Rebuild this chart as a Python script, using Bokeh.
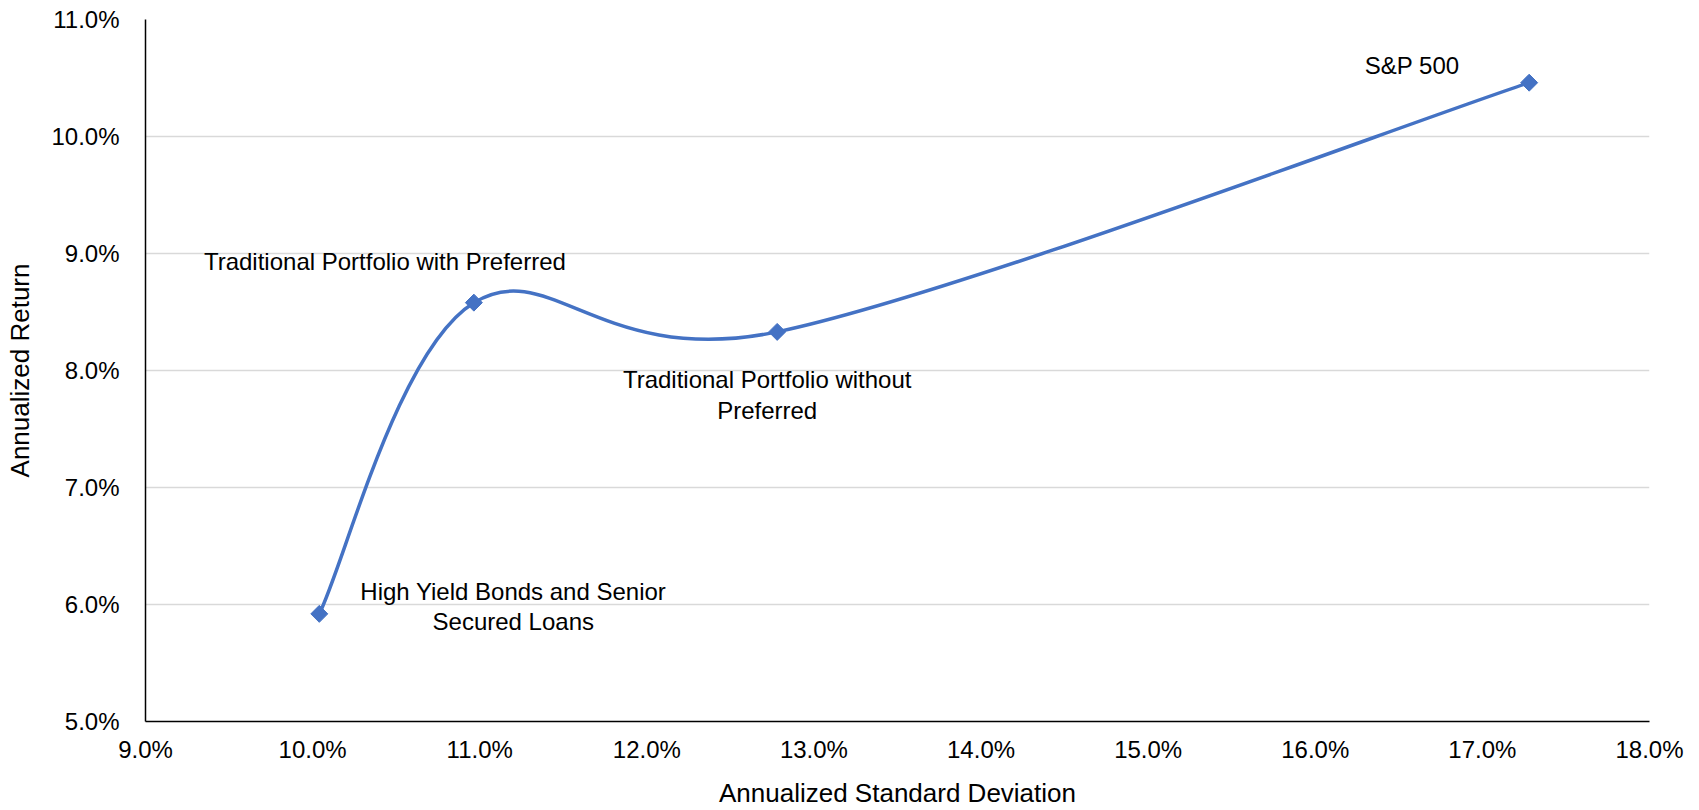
import numpy as np
from bokeh.plotting import figure
from bokeh.models import FixedTicker, PrintfTickFormatter, Range1d, ColumnDataSource
from bokeh.core.properties import value
from bokeh.embed import file_html
from bokeh.resources import INLINE

# ---- data (percent) ----
names = ["High Yield Bonds and Senior\nSecured Loans",
         "Traditional Portfolio with Preferred",
         "Traditional Portfolio without\nPreferred",
         "S&P 500"]
std_dev = [10.04, 10.965, 12.78, 17.28]
ann_return = [5.92, 8.58, 8.33, 10.46]
x_ticks = [9, 10, 11, 12, 13, 14, 15, 16, 17, 18]
y_ticks = [5, 6, 7, 8, 9, 10, 11]

FONT = "Liberation Sans"
BLUE = "#4472C4"

p = figure(width=1699, height=810, output_backend="svg", toolbar_location=None,
           x_range=Range1d(9, 18), y_range=Range1d(5, 11),
           min_border_left=145, min_border_right=50, min_border_top=19, min_border_bottom=89)
p.outline_line_color = None
p.background_fill_color = "white"

# axes
for ax in (p.xaxis[0], p.yaxis[0]):
    ax.formatter = PrintfTickFormatter(format="%.1f%%")
    ax.axis_line_color = "black"
    ax.axis_line_width = 1.5
    ax.major_tick_line_color = None
    ax.minor_tick_line_color = None
    ax.major_label_text_font = FONT
    ax.major_label_text_font_size = "24px"
    ax.major_label_text_color = "#000000"
    ax.axis_label_text_font = FONT
    ax.axis_label_text_font_size = "26px"
    ax.axis_label_text_font_style = "normal"
    ax.axis_label_text_color = "#000000"
p.xaxis.ticker = FixedTicker(ticks=x_ticks)
p.yaxis.ticker = FixedTicker(ticks=y_ticks)
p.xaxis.axis_label = "Annualized Standard Deviation"
p.yaxis.axis_label = "Annualized Return"
p.xaxis.major_label_standoff = 8
p.xaxis.axis_label_standoff = 12
p.yaxis.major_label_standoff = 20
p.yaxis.axis_label_standoff = 13

p.xgrid.grid_line_color = None
p.ygrid.grid_line_color = "#d9d9d9"
p.ygrid.grid_line_width = 1.3

# smoothed line (Catmull-Rom style bezier segments, as in a smoothed spreadsheet line)
xs = np.array(std_dev, dtype=float)
ys = np.array(ann_return, dtype=float)
n = len(xs)
x0, y0, x1, y1, cx0, cy0, cx1, cy1 = ([] for _ in range(8))
for i in range(n - 1):
    ip = max(i - 1, 0)
    inx = min(i + 2, n - 1)
    x0.append(xs[i]); y0.append(ys[i])
    x1.append(xs[i + 1]); y1.append(ys[i + 1])
    cx0.append(xs[i] + (xs[i + 1] - xs[ip]) / 6.0)
    cy0.append(ys[i] + (ys[i + 1] - ys[ip]) / 6.0)
    cx1.append(xs[i + 1] - (xs[inx] - xs[i]) / 6.0)
    cy1.append(ys[i + 1] - (ys[inx] - ys[i]) / 6.0)
p.bezier(x0=x0, y0=y0, x1=x1, y1=y1, cx0=cx0, cy0=cy0, cx1=cx1, cy1=cy1,
         line_color=BLUE, line_width=3.5)

p.scatter(x=std_dev, y=ann_return, marker="square", angle=np.pi / 4, size=12,
          fill_color=BLUE, line_color=BLUE)

# labels (pixel offsets relative to each point)
dx = [194, -89, -10, -117]
dy = [-7, -41, 63, -17]
src = ColumnDataSource(dict(x=std_dev, y=ann_return, t=names, dx=dx, dy=dy))
p.text(x="x", y="y", text="t", x_offset="dx", y_offset="dy", source=src,
       text_font=value(FONT), text_font_size="24px", text_color="#000000",
       text_align="center", text_baseline="middle", text_line_height=1.12)

open("out.html", "w").write(file_html(p, INLINE))
